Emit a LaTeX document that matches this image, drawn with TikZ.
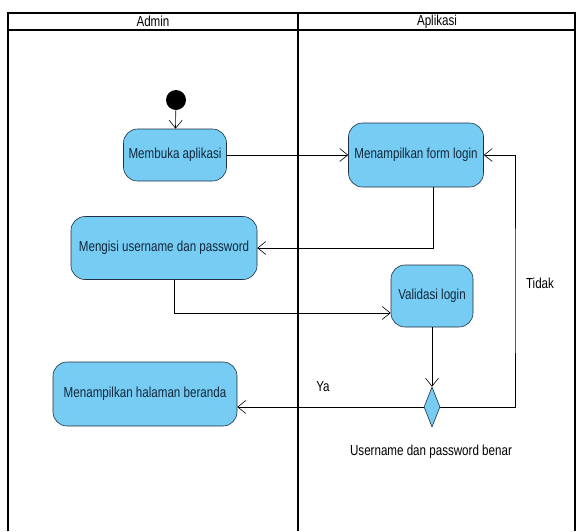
\documentclass[tikz,border=0pt]{standalone}
\usepackage{fontspec}
\setmainfont[FakeStretch=0.8]{Liberation Sans}
\usetikzlibrary{positioning, shapes.geometric, arrows.meta}

\definecolor{actfill}{RGB}{118,204,243}
\definecolor{actline}{RGB}{32,48,66}
\definecolor{acttext}{RGB}{20,40,60}

\tikzset{
  action/.style={draw=actline, fill=actfill, text=acttext, rounded corners=14pt,
    semithick, inner sep=3pt, align=center},
  flow/.style={->, semithick},
  lane/.style={line width=1.5pt},
  guard/.style={inner sep=1pt}
}

\begin{document}
\begin{tikzpicture}[x=1pt, y=1pt, >={Straight Barb[length=8pt, width=13pt]},
    font=\fontsize{14.5}{16}\selectfont]
    \useasboundingbox (0,0) rectangle (576,-531);

    % swimlanes
    \draw[lane] (8,-531) -- (8,-13) -- (575,-13) -- (575,-531);
    \draw[lane] (8,-30) -- (575,-30);
    \draw[lane] (298,-13) -- (298,-531);
    \node (admin) at (153,-21.5) {Admin};
    \node (aplikasi) at (437,-21.5) {Aplikasi};

    % actions
    \node[circle, fill=black, minimum size=20pt, inner sep=0pt] (start) at (176,-100) {};
    \node[action, minimum width=103pt, minimum height=52pt] (buka) at (175,-155) {Membuka aplikasi};
    \node[action, minimum width=135pt, minimum height=64pt] (form) at (416,-155) {Menampilkan form login};
    \node[action, minimum width=186pt, minimum height=63pt] (isi) at (164,-248) {Mengisi username dan password};
    \node[action, minimum width=82pt, minimum height=62pt] (validasi) at (432,-296) {Validasi login};
    \node[diamond, draw=actline, fill=actfill, semithick, inner sep=0pt,
      minimum width=16pt, minimum height=40pt] (cek) at (432,-407) {};
    \node[action, minimum width=184pt, minimum height=64pt] (beranda) at (145,-394) {Menampilkan halaman beranda};

    % flows
    \draw[flow] (start) -- (buka);
    \draw[flow] (buka) -- (form);
    \draw[flow] ([xshift=17pt]form.south) |- (isi.east);
    \draw[flow] ([xshift=10pt]isi.south) |- ([yshift=-17pt]validasi.west);
    \draw[flow] (validasi) -- (cek);
    \path (515,-300) coordinate (balik);
    \draw[flow] (cek.east) -| (balik) |- (form.east);
    \draw[flow] (cek.west) -- (cek.west -| beranda.east);

    % guards
    \node[guard] (tidak) at (540,-283) {Tidak};
    \node[guard] (ya) at (323,-387) {Ya};
    \node[guard] (benar) at (431,-452) {Username dan password benar};
\end{tikzpicture}
\end{document}
